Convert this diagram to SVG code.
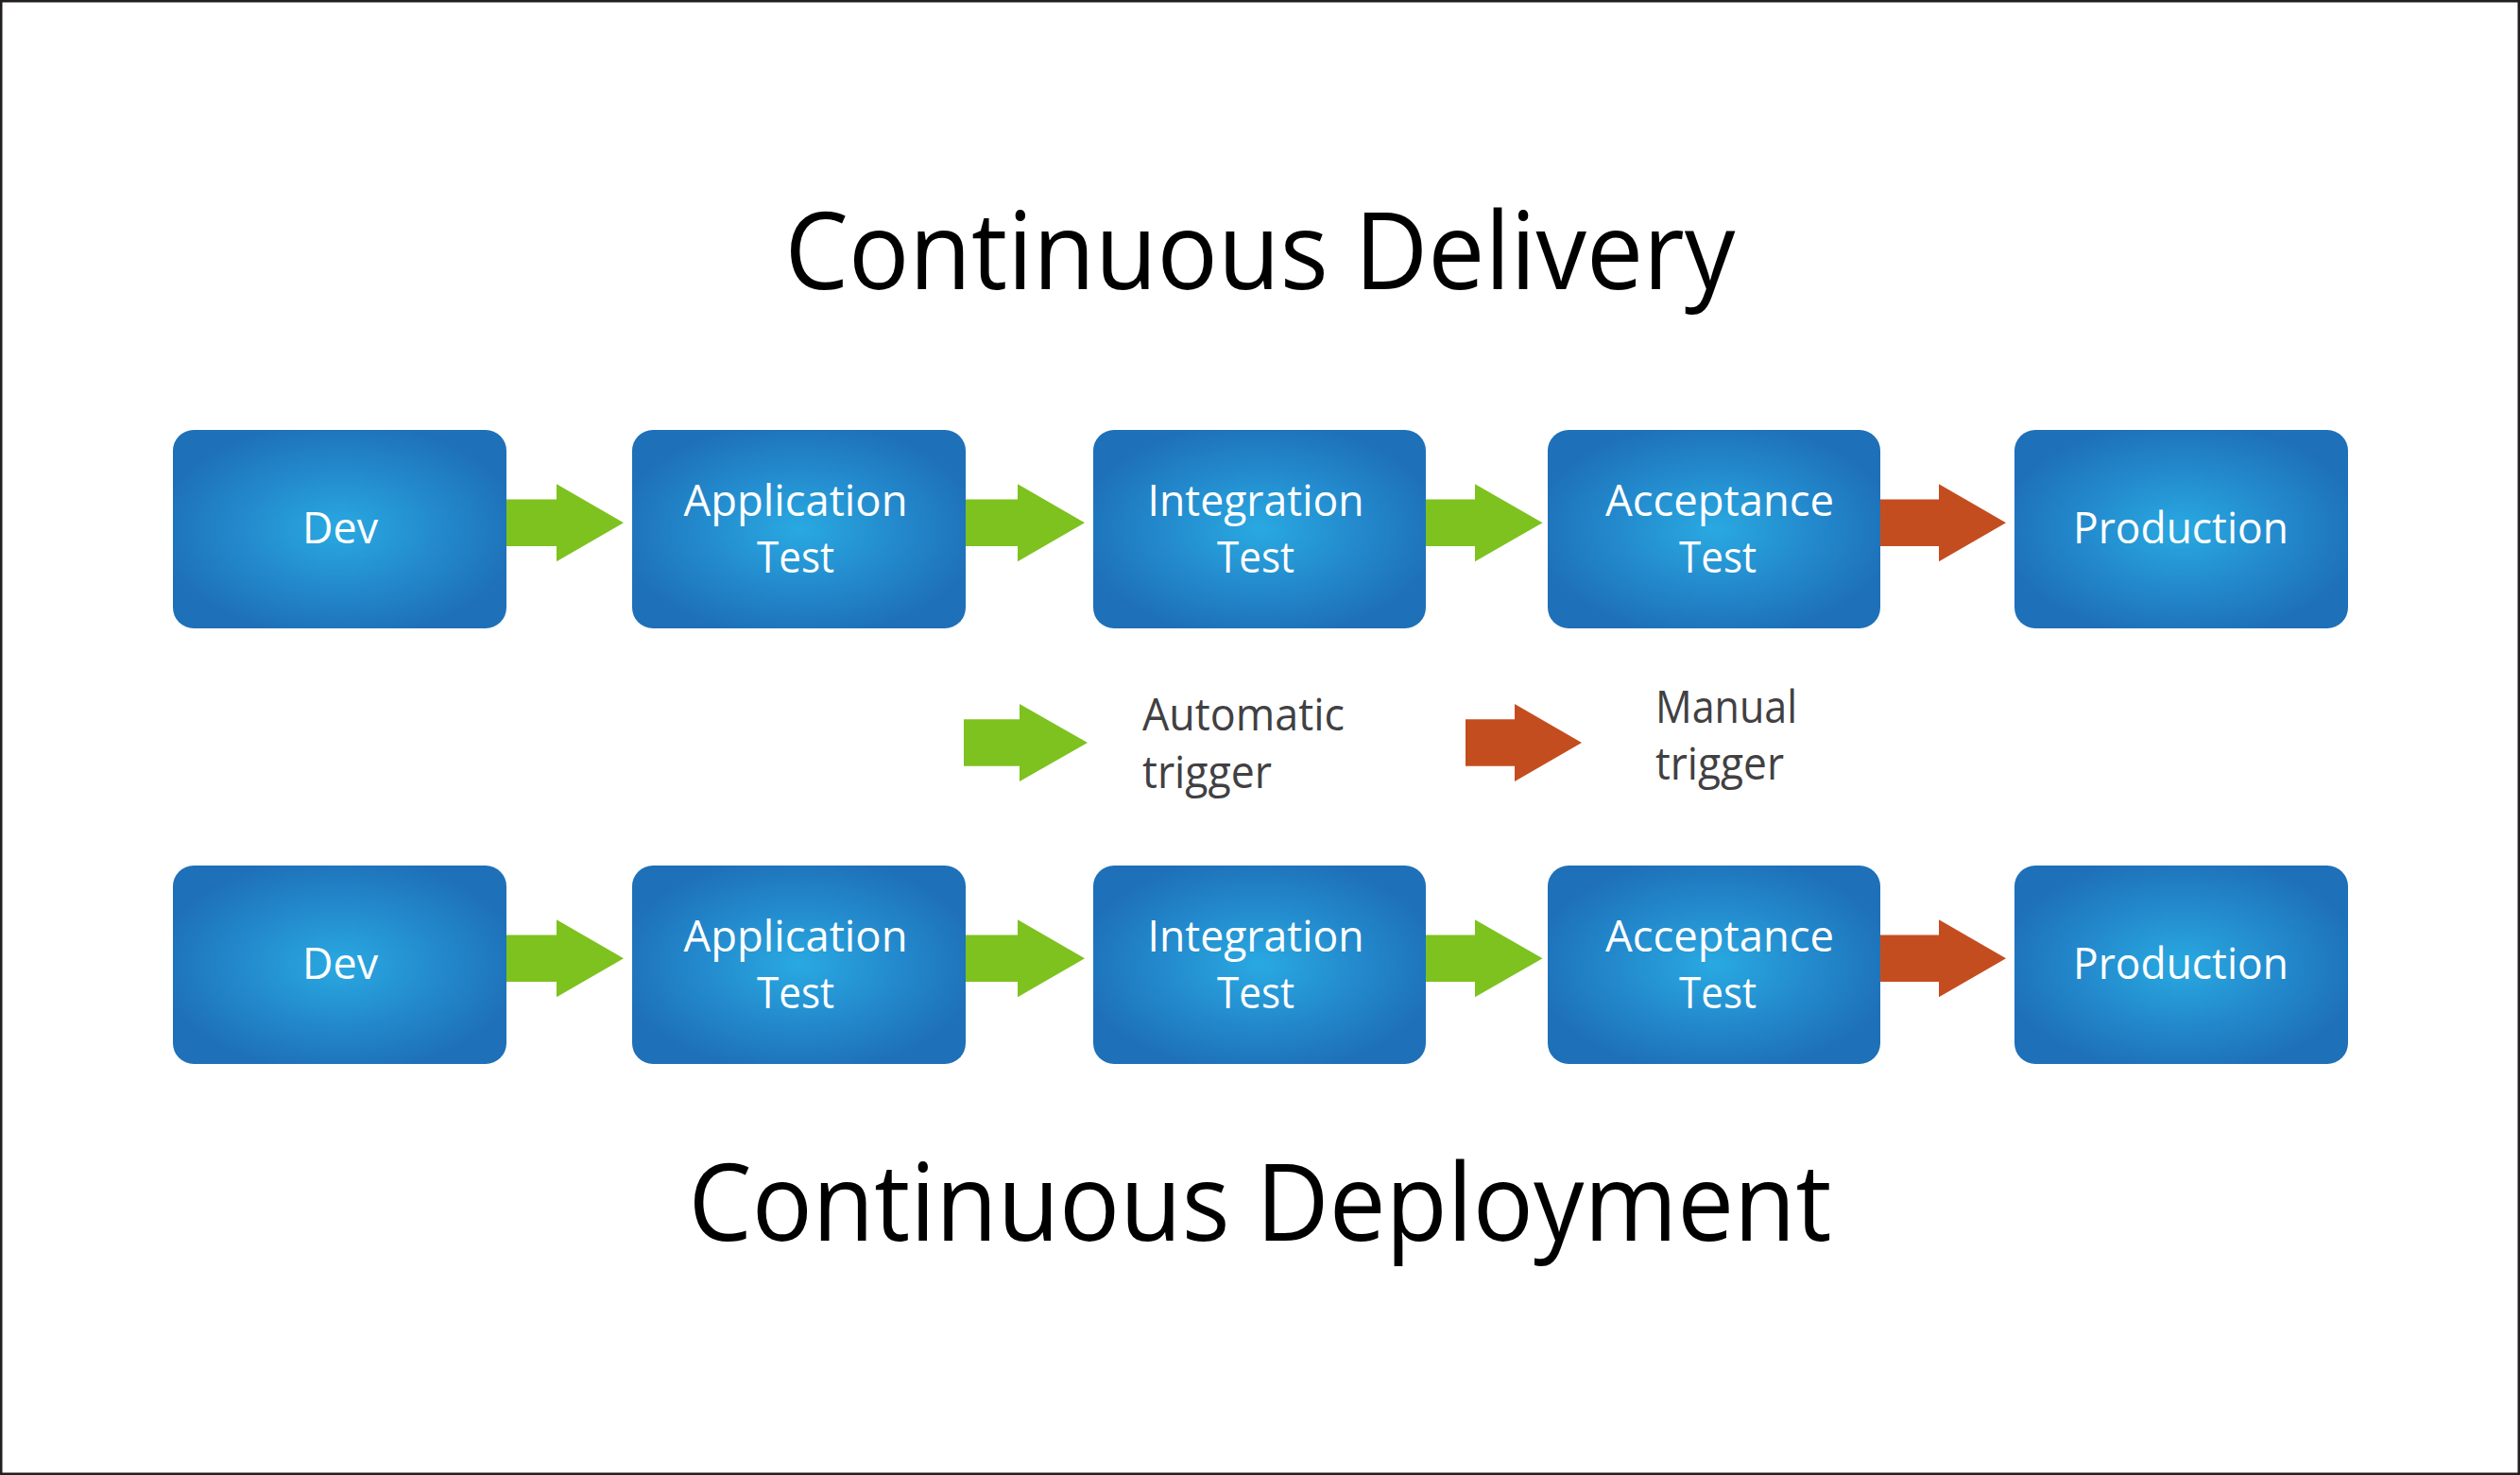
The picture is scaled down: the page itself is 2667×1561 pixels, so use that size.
<svg xmlns="http://www.w3.org/2000/svg" width="2667" height="1561" viewBox="0 0 2667 1561">
<defs>
<radialGradient id="boxGrad" cx="0.5" cy="0.5" r="0.55">
<stop offset="0" stop-color="#29a9e1"/>
<stop offset="0.55" stop-color="#2389cc"/>
<stop offset="1" stop-color="#1e70b8"/>
</radialGradient>
</defs>
<style>
.box{fill:url(#boxGrad);}
.lbl{font-family:"Open Sans","Noto Sans","DejaVu Sans",sans-serif;font-size:46px;fill:#ffffff;text-anchor:middle;}
.title{font-family:"Open Sans","Noto Sans","DejaVu Sans",sans-serif;font-size:114px;fill:#000000;text-anchor:middle;}
.leg{font-family:"Open Sans","Noto Sans","DejaVu Sans",sans-serif;font-size:48px;fill:#414042;}
.auto{fill:#7dc21f;}
.manual{fill:#c44d20;}
</style>
<rect x="0" y="0" width="2667" height="1561" fill="#ffffff"/>
<rect x="1.25" y="1.25" width="2664.5" height="1558.5" fill="none" stroke="#231f20" stroke-width="2.5"/>

<text class="title" x="1333.5" y="306" textLength="1006" lengthAdjust="spacingAndGlyphs">Continuous Delivery</text>
<text class="title" x="1333.5" y="1313" textLength="1210" lengthAdjust="spacingAndGlyphs">Continuous Deployment</text>

<g id="connectors">
<g transform="translate(536,553.3)"><path class="auto" d="M0,-24.7 H53 V-41 L124,0 L53,41 V24.7 H0 Z"/></g>
<g transform="translate(1022,553.3)"><path class="auto" d="M0,-24.7 H55 V-41 L126,0 L55,41 V24.7 H0 Z"/></g>
<g transform="translate(1509,553.3)"><path class="auto" d="M0,-24.7 H52 V-41 L123.5,0 L52,41 V24.7 H0 Z"/></g>
<g transform="translate(1990,553.3)"><path class="manual" d="M0,-24.7 H62 V-41 L133,0 L62,41 V24.7 H0 Z"/></g>
<g transform="translate(536,1014.3)"><path class="auto" d="M0,-24.7 H53 V-41 L124,0 L53,41 V24.7 H0 Z"/></g>
<g transform="translate(1022,1014.3)"><path class="auto" d="M0,-24.7 H55 V-41 L126,0 L55,41 V24.7 H0 Z"/></g>
<g transform="translate(1509,1014.3)"><path class="auto" d="M0,-24.7 H52 V-41 L123.5,0 L52,41 V24.7 H0 Z"/></g>
<g transform="translate(1990,1014.3)"><path class="manual" d="M0,-24.7 H62 V-41 L133,0 L62,41 V24.7 H0 Z"/></g>
</g>

<g id="cd-dev"><rect class="box" x="183" y="455" width="353" height="210" rx="22"/><text class="lbl" x="360" y="575" textLength="80" lengthAdjust="spacingAndGlyphs">Dev</text></g>
<g id="cd-apptest"><rect class="box" x="669" y="455" width="353" height="210" rx="22"/><text class="lbl" x="842" y="545.7" textLength="237" lengthAdjust="spacingAndGlyphs">Application</text><text class="lbl" x="842" y="605.7" textLength="82" lengthAdjust="spacingAndGlyphs">Test</text></g>
<g id="cd-inttest"><rect class="box" x="1157" y="455" width="352" height="210" rx="22"/><text class="lbl" x="1329" y="545.7" textLength="229" lengthAdjust="spacingAndGlyphs">Integration</text><text class="lbl" x="1329" y="605.7" textLength="82" lengthAdjust="spacingAndGlyphs">Test</text></g>
<g id="cd-acctest"><rect class="box" x="1638" y="455" width="352" height="210" rx="22"/><text class="lbl" x="1820" y="545.7" textLength="242" lengthAdjust="spacingAndGlyphs">Acceptance</text><text class="lbl" x="1818" y="605.7" textLength="82" lengthAdjust="spacingAndGlyphs">Test</text></g>
<g id="cd-prod"><rect class="box" x="2132" y="455" width="353" height="210" rx="22"/><text class="lbl" x="2308" y="575" textLength="228" lengthAdjust="spacingAndGlyphs">Production</text></g>

<g id="cdep-dev"><rect class="box" x="183" y="916" width="353" height="210" rx="22"/><text class="lbl" x="360" y="1036" textLength="80" lengthAdjust="spacingAndGlyphs">Dev</text></g>
<g id="cdep-apptest"><rect class="box" x="669" y="916" width="353" height="210" rx="22"/><text class="lbl" x="842" y="1006.7" textLength="237" lengthAdjust="spacingAndGlyphs">Application</text><text class="lbl" x="842" y="1066.7" textLength="82" lengthAdjust="spacingAndGlyphs">Test</text></g>
<g id="cdep-inttest"><rect class="box" x="1157" y="916" width="352" height="210" rx="22"/><text class="lbl" x="1329" y="1006.7" textLength="229" lengthAdjust="spacingAndGlyphs">Integration</text><text class="lbl" x="1329" y="1066.7" textLength="82" lengthAdjust="spacingAndGlyphs">Test</text></g>
<g id="cdep-acctest"><rect class="box" x="1638" y="916" width="352" height="210" rx="22"/><text class="lbl" x="1820" y="1006.7" textLength="242" lengthAdjust="spacingAndGlyphs">Acceptance</text><text class="lbl" x="1818" y="1066.7" textLength="82" lengthAdjust="spacingAndGlyphs">Test</text></g>
<g id="cdep-prod"><rect class="box" x="2132" y="916" width="353" height="210" rx="22"/><text class="lbl" x="2308" y="1036" textLength="228" lengthAdjust="spacingAndGlyphs">Production</text></g>

<g id="legend">
<g transform="translate(1020,786)"><path class="auto" d="M0,-24.7 H59 V-41 L131,0 L59,41 V24.7 H0 Z"/></g>
<text class="leg" x="1209" y="773" textLength="214" lengthAdjust="spacingAndGlyphs">Automatic</text>
<text class="leg" x="1209" y="834" textLength="137" lengthAdjust="spacingAndGlyphs">trigger</text>
<g transform="translate(1551,786)"><path class="manual" d="M0,-24.7 H52 V-41 L123,0 L52,41 V24.7 H0 Z"/></g>
<text class="leg" x="1752" y="765" textLength="150" lengthAdjust="spacingAndGlyphs">Manual</text>
<text class="leg" x="1752" y="825" textLength="136" lengthAdjust="spacingAndGlyphs">trigger</text>
</g>
</svg>
